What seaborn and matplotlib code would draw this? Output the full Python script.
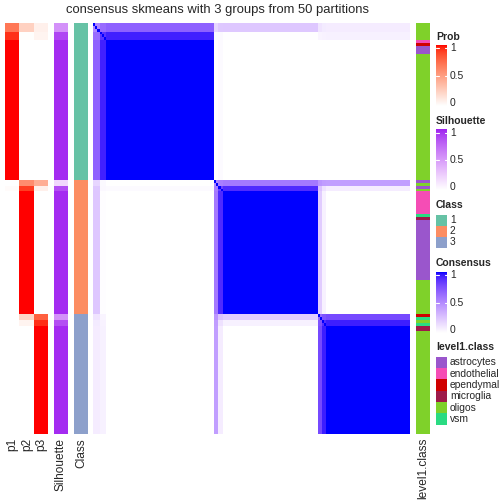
import numpy as np
import pandas as pd
import matplotlib
matplotlib.use("Agg")
import matplotlib.pyplot as plt
from matplotlib.colors import ListedColormap, to_rgb
from matplotlib.patches import Rectangle
import seaborn as sns

sns.set_style("white")
plt.rcParams['font.family'] = ['Liberation Sans', 'DejaVu Sans']

title = "consensus skmeans with 3 groups from 50 partitions"

# membership runs per group: (p1, p2, p3, silhouette, number of samples)
group_runs = [
    [(0.68, 0.24, 0.08, 0.55, 3), (0.93, 0.01, 0.06, 0.88, 3), (1.0, 0.0, 0.0, 0.97, 49)],
    [(0.0, 0.58, 0.42, 0.20, 2), (0.02, 0.90, 0.08, 0.85, 2), (0.0, 1.0, 0.0, 0.97, 43)],
    [(0.0, 0.22, 0.78, 0.55, 2), (0.0, 0.06, 0.94, 0.85, 2), (0.0, 0.0, 1.0, 0.97, 38)],
]
class_labels = ["1", "2", "3"]
class_colors = ["#66C2A5", "#FC8D62", "#8DA0CB"]

level1_names = ["astrocytes", "endothelial", "ependymal", "microglia", "oligos", "vsm"]
level1_colors = ["#9A56CC", "#F54DB5", "#D00000", "#9E1A4A", "#7FD12A", "#2ADB82"]
level1_runs = [
    ("oligos", 6), ("endothelial", 1), ("ependymal", 1), ("astrocytes", 3), ("oligos", 44),
    ("astrocytes", 1), ("oligos", 1), ("astrocytes", 1), ("oligos", 1), ("endothelial", 8),
    ("vsm", 1), ("microglia", 1), ("astrocytes", 21), ("oligos", 12),
    ("ependymal", 1), ("vsm", 1), ("oligos", 1), ("vsm", 1), ("microglia", 2), ("oligos", 36),
]


def to_lab(c):
    c = np.asarray(c, float)
    lin = np.where(c <= 0.04045, c / 12.92, ((c + 0.055) / 1.055) ** 2.4)
    M = np.array([[0.4124, 0.3576, 0.1805], [0.2126, 0.7152, 0.0722], [0.0193, 0.1192, 0.9505]])
    xyz = M @ lin / np.array([0.95047, 1.0, 1.08883])
    d = 6 / 29
    f = np.where(xyz > d ** 3, np.cbrt(xyz), xyz / (3 * d * d) + 4 / 29)
    return np.array([116 * f[1] - 16, 500 * (f[0] - f[1]), 200 * (f[1] - f[2])])


def from_lab(lab):
    L, a, b = lab
    fy = (L + 16) / 116
    f = np.array([fy + a / 500, fy, fy - b / 200])
    d = 6 / 29
    xyz = np.where(f > d, f ** 3, 3 * d * d * (f - 4 / 29)) * np.array([0.95047, 1.0, 1.08883])
    Minv = np.array([[3.2406, -1.5372, -0.4986], [-0.9689, 1.8758, 0.0415], [0.0557, -0.2040, 1.0570]])
    lin = np.clip(Minv @ xyz, 0, 1)
    rgb = np.where(lin <= 0.0031308, 12.92 * lin, 1.055 * lin ** (1 / 2.4) - 0.055)
    return np.clip(rgb, 0, 1)


def lab_ramp(col):
    w, c = to_lab((1, 1, 1)), to_lab(to_rgb(col))
    return ListedColormap([from_lab(w + t * (c - w)) for t in np.linspace(0, 1, 256)])


cmap_prob = lab_ramp("red")
cmap_sil = lab_ramp("#A020F0")
cmap_cons = lab_ramp("blue")

# expand runs into per-sample arrays
rows, cls = [], []
for g, runs in enumerate(group_runs):
    for p1, p2, p3, s, n in runs:
        rows += [(p1, p2, p3, s)] * n
        cls += [g] * n
memb = pd.DataFrame(rows, columns=["p1", "p2", "p3", "Silhouette"])
level1 = [level1_names.index(name) for name, n in level1_runs for _ in range(n)]

P = memb[["p1", "p2", "p3"]].values
consensus = P @ P.T
np.fill_diagonal(consensus, 1.0)

W = H = 504
fig = plt.figure(figsize=(W / 100, H / 100), dpi=100)


def ax_px(x0, y0, x1, y1):
    return fig.add_axes([x0 / W, 1 - y1 / H, (x1 - x0) / W, (y1 - y0) / H])


top, bot = 23, 434
kw = dict(cbar=False, xticklabels=False, yticklabels=False, linewidths=0)

sns.heatmap(memb[["p1", "p2", "p3"]], ax=ax_px(5, top, 48, bot), cmap=cmap_prob, vmin=0, vmax=1, **kw)
sns.heatmap(memb[["Silhouette"]], ax=ax_px(54, top, 68, bot), cmap=cmap_sil, vmin=0, vmax=1, **kw)
sns.heatmap(np.array(cls)[:, None], ax=ax_px(74, top, 88, bot), cmap=ListedColormap(class_colors),
            vmin=-0.5, vmax=2.5, **kw)
sns.heatmap(consensus, ax=ax_px(93, top, 410, bot), cmap=cmap_cons, vmin=0, vmax=1, **kw)
sns.heatmap(np.array(level1)[:, None], ax=ax_px(416, top, 430, bot), cmap=ListedColormap(level1_colors),
            vmin=-0.5, vmax=5.5, **kw)
for a in fig.axes:
    a.set_xlabel("")
    a.set_ylabel("")

# overlay in pixel coordinates for text and legends
ov = fig.add_axes([0, 0, 1, 1])
ov.set_xlim(0, W)
ov.set_ylim(H, 0)
ov.axis("off")

ov.text(217.5, 10, title, ha="center", va="center", fontsize=9.4)
for lab, x in [("p1", 12.5), ("p2", 27), ("p3", 41), ("Silhouette", 61), ("Class", 81), ("level1.class", 423)]:
    ov.text(x, 438, lab, rotation=90, ha="center", va="top", fontsize=8.6)

lx, lw, tx = 436, 11, 450
grad = np.linspace(1, 0, 200)[:, None]


def cont_legend(name, cmap, ty, y0, y1, ys):
    ov.text(lx, ty, name, ha="left", va="center", fontsize=7.5, fontweight="bold")
    ov.imshow(grad, cmap=cmap, vmin=0, vmax=1, aspect="auto", extent=(lx, lx + lw, y1, y0), zorder=2)
    for lab, y in zip(["1", "0.5", "0"], ys):
        ov.text(tx, y, lab, ha="left", va="center", fontsize=7.4)
        if lab != "0":
            ov.plot([lx, lx + 2.5], [y, y], color="white", lw=0.8, zorder=3)
            ov.plot([lx + lw - 2.5, lx + lw], [y, y], color="white", lw=0.8, zorder=3)


def disc_legend(name, labels, colors, ty, y0, step=11.2):
    ov.text(lx, ty, name, ha="left", va="center", fontsize=7.5, fontweight="bold")
    for i, (lab, c) in enumerate(zip(labels, colors)):
        y = y0 + i * step
        ov.add_patch(Rectangle((lx, y), lw, step, facecolor=c, edgecolor="none", zorder=2))
        ov.text(tx, y + step / 2, lab, ha="left", va="center", fontsize=7.4)


cont_legend("Prob", cmap_prob, 36.5, 45, 106, [48, 76, 103])
cont_legend("Silhouette", cmap_sil, 120.5, 129, 190, [133, 160, 187])
disc_legend("Class", class_labels, class_colors, 204.5, 214.5, step=11)
cont_legend("Consensus", cmap_cons, 262.5, 272, 333, [275, 303, 330])
disc_legend("level1.class", level1_names, level1_colors, 346.5, 356.7, step=11.3)

ov.set_xlim(0, W)
ov.set_ylim(H, 0)
fig.savefig("out.png", dpi=100)
